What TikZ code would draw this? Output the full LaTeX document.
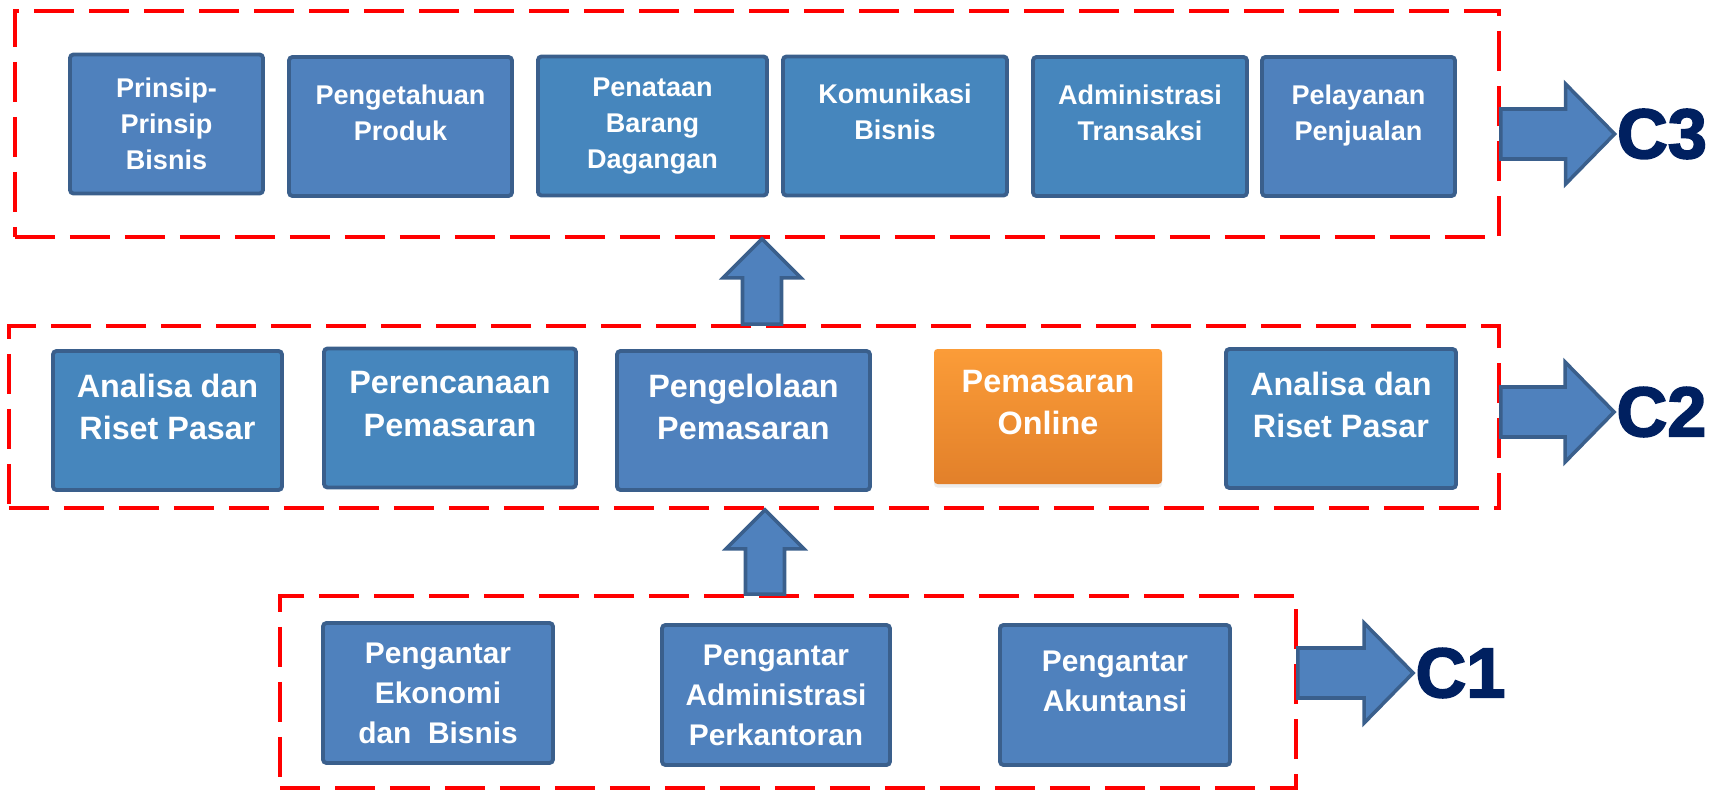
\documentclass[tikz,border=0pt]{standalone}
\usepackage{xcolor}
\usepackage{fontspec}
\setmainfont{Liberation Sans}
\newfontfamily\levelfont[FakeBold=2.5]{Liberation Sans Bold}
\usepackage{tikz}
\usetikzlibrary{shapes,arrows,positioning,fit,calc,shadows}

\definecolor{boxblue}{HTML}{4F81BD}
\definecolor{boxteal}{HTML}{4686BD}
\definecolor{boxline}{HTML}{3A5F8C}
\definecolor{orangetop}{HTML}{FB9C38}
\definecolor{orangebot}{HTML}{E2802A}
\definecolor{levelred}{HTML}{FF0000}
\definecolor{levelnavy}{HTML}{002060}

\tikzset{
  course/.style={rectangle, draw=boxline, fill=boxblue, line width=1.1pt, rounded corners=1pt,
    text=white, align=center, inner sep=1pt, font=\bfseries},
  tealcourse/.style={course, fill=boxteal},
  toprow/.style={font={\fontsize{7.7}{10.2}\selectfont\bfseries}, minimum height=1.39cm},
  midrow/.style={font={\fontsize{9.2}{12}\selectfont\bfseries}, minimum height=1.39cm},
  lowrow/.style={font={\fontsize{8.5}{11.4}\selectfont\bfseries}, minimum height=1.40cm},
  twolines/.style={text depth=8pt},
  onlinebox/.style={rectangle, top color=orangetop, bottom color=orangebot, text=white,
    align=center, inner sep=1pt, rounded corners=1pt,
    drop shadow={shadow xshift=0pt, shadow yshift=-1pt, opacity=0.15}},
  levelbox/.style={rectangle, draw=levelred, line width=1.1pt, dash pattern=on 0.4cm off 0.15cm},
  levellabel/.style={text=levelnavy, font={\fontsize{20}{20}\selectfont\levelfont}, inner sep=0.5pt},
  blockarrow/.style={draw=boxline, fill=boxblue, line width=1pt, line join=miter}
}

% fat arrow pointing right, tail point #1, tip point #2
\newcommand{\rightblock}[2]{%
  \draw[blockarrow] let \p1=(#1), \p2=(#2) in
    (\x1,{\y2+0.25cm}) -- ({\x2-0.49cm},{\y2+0.25cm}) -- ({\x2-0.49cm},{\y2+0.5cm})
    -- (\x2,\y2) -- ({\x2-0.49cm},{\y2-0.5cm}) -- ({\x2-0.49cm},{\y2-0.25cm})
    -- (\x1,{\y2-0.25cm}) -- cycle;}
% fat arrow pointing up, tail point #1, tip point #2
\newcommand{\upblock}[2]{%
  \draw[blockarrow] let \p1=(#1), \p2=(#2) in
    ({\x2-0.195cm},\y1) -- ({\x2-0.195cm},{\y2-0.39cm}) -- ({\x2-0.39cm},{\y2-0.39cm})
    -- (\x2,\y2) -- ({\x2+0.39cm},{\y2-0.39cm}) -- ({\x2+0.195cm},{\y2-0.39cm})
    -- ({\x2+0.195cm},\y1) -- cycle;}

\begin{document}
\begin{tikzpicture}
    \useasboundingbox (0,0) rectangle (17.28,-7.91);

    % level boxes
    \node (lvlC3) [levelbox, minimum width=14.84cm, minimum height=2.26cm] at (7.57,-1.24) {};
    \node (lvlC2) [levelbox, minimum width=14.90cm, minimum height=1.82cm] at (7.54,-4.17) {};
    \node (lvlC1) [levelbox, minimum width=10.16cm, minimum height=1.92cm] at (7.88,-6.92) {};

    % C3 courses
    \node (prinsip) [course, toprow, minimum width=1.93cm] at (1.665,-1.24) {Prinsip-\\Prinsip\\Bisnis};
    \node (produk) [course, toprow, twolines, minimum width=2.23cm] at (4.005,-1.265) {Pengetahuan\\Produk};
    \node (penataan) [tealcourse, toprow, minimum width=2.29cm] at (6.525,-1.26) {Penataan\\Barang\\Dagangan};
    \node (komunikasi) [tealcourse, toprow, twolines, minimum width=2.24cm] at (8.95,-1.26) {Komunikasi\\Bisnis};
    \node (transaksi) [tealcourse, toprow, twolines, minimum width=2.14cm] at (11.40,-1.265) {Administrasi\\Transaksi};
    \node (pelayanan) [course, toprow, twolines, minimum width=1.93cm] at (13.585,-1.265) {Pelayanan\\Penjualan};

    % C2 courses
    \node (risetA) [tealcourse, midrow, twolines, minimum width=2.29cm] at (1.675,-4.205) {Analisa dan\\Riset Pasar};
    \node (perencanaan) [tealcourse, midrow, twolines, minimum width=2.52cm] at (4.50,-4.18) {Perencanaan\\Pemasaran};
    \node (pengelolaan) [course, midrow, twolines, minimum width=2.53cm] at (7.435,-4.205) {Pengelolaan\\Pemasaran};
    \node (online) [onlinebox, midrow, twolines, minimum width=2.28cm, minimum height=1.35cm] at (10.48,-4.165) {Pemasaran\\Online};
    \node (risetB) [tealcourse, midrow, twolines, minimum width=2.30cm] at (13.41,-4.185) {Analisa dan\\Riset Pasar};

    % C1 courses
    \node (ekonomi) [course, lowrow, minimum width=2.30cm] at (4.38,-6.93) {Pengantar\\Ekonomi\\dan\ \ Bisnis};
    \node (perkantoran) [course, lowrow, minimum width=2.28cm] at (7.76,-6.95) {Pengantar\\Administrasi\\Perkantoran};
    \node (akuntansi) [course, lowrow, twolines, minimum width=2.30cm] at (11.15,-6.95) {Pengantar\\Akuntansi};

    % level labels
    \node (lblC3) [levellabel] at (16.62,-1.34) {C3};
    \node (lblC2) [levellabel] at (16.615,-4.12) {C2};
    \node (lblC1) [levellabel] at (14.605,-6.73) {C1};

    \coordinate (spineA) at (7.62,0);
    \coordinate (spineB) at (7.65,0);

    \rightblock{lvlC3.east |- lblC3}{lblC3.west}
    \rightblock{lvlC2.east |- lblC2}{lblC2.west}
    \rightblock{lvlC1.east |- lblC1}{lblC1.west}
    \upblock{lvlC2.north -| spineA}{lvlC3.south -| spineA}
    \upblock{lvlC1.north -| spineB}{lvlC2.south -| spineB}
\end{tikzpicture}
\end{document}
